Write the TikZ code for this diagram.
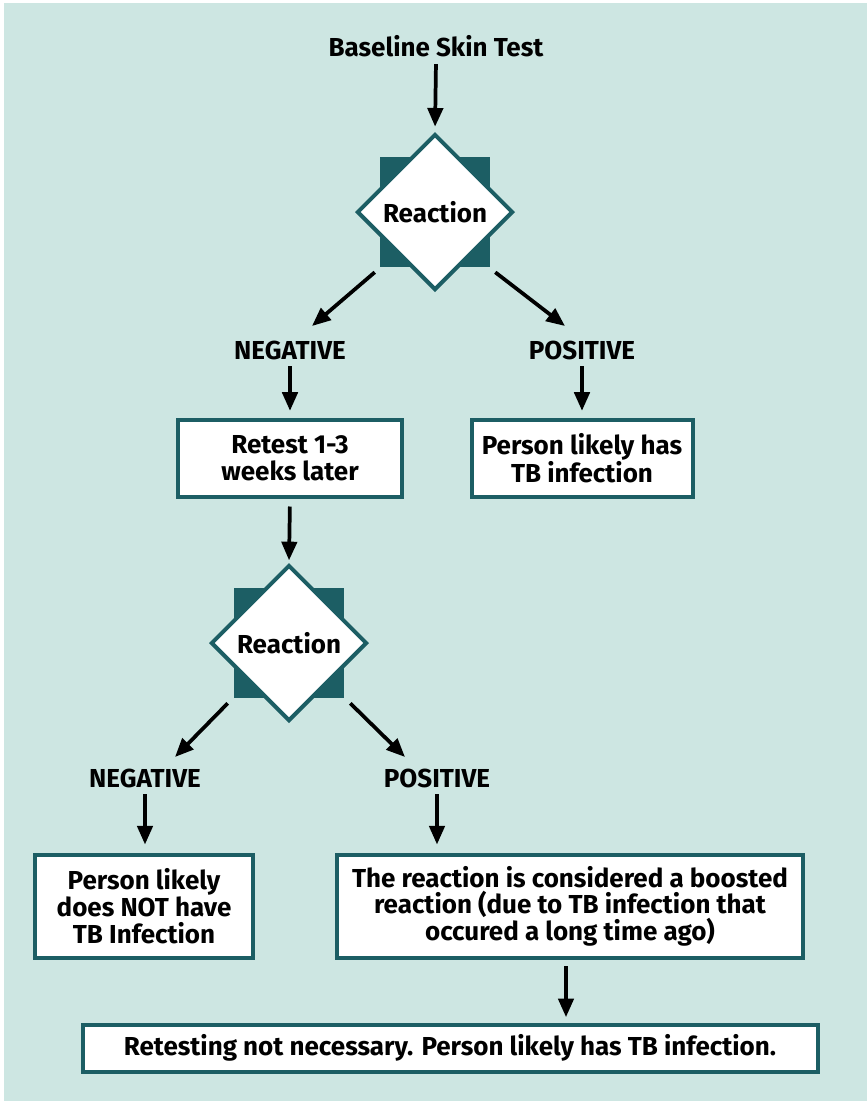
\documentclass[tikz,border=0pt]{standalone}
\usepackage{fontspec}
\setmainfont{Fira Sans}
\usetikzlibrary{shapes.geometric,arrows.meta}
\definecolor{bgteal}{RGB}{205,230,226}
\definecolor{darkteal}{RGB}{28,94,100}
\newcommand\pxu{0.75pt}

\begin{document}
\begin{tikzpicture}[x=0.75pt,y=-0.75pt,>={Triangle[length=14pt,width=11.5pt]},
        every node/.style={font=\fontsize{19.5}{20}\selectfont\bfseries},
        arr/.style={->,line width=2.8pt},
        box/.style={draw=darkteal,line width=3pt,fill=white,align=center,inner sep=0pt},
        choice/.style={diamond,draw=darkteal,line width=3pt,fill=white,inner sep=0pt,
                minimum width=156*\pxu,minimum height=156*\pxu},
        backsq/.style={rectangle,fill=darkteal,inner sep=0pt,minimum size=110*\pxu},
        lbl/.style={inner sep=2pt}]
        % background
        \useasboundingbox (0,0) rectangle (867,1101);
        \fill[bgteal] (4,3) rectangle (867,1101);
        % first test
        \node (start) at (436,46) {Baseline Skin Test};
        \node[backsq] (sq1) at (435,212) {};
        \node[choice] (react1) at (435,212) {Reaction};
        \node[lbl] (neg1) at (290,350) {NEGATIVE};
        \node[lbl] (pos1) at (582,350) {POSITIVE};
        \node[box,minimum width=224*\pxu,minimum height=77*\pxu] (retest) at (290,458) {Retest 1-3\\weeks later};
        \node[box,minimum width=221*\pxu,minimum height=77*\pxu] (likely) at (582,458) {Person likely has\\TB infection};
        % second test
        \node[backsq] (sq2) at (289,643) {};
        \node[choice] (react2) at (289,643) {Reaction};
        \node[lbl] (neg2) at (145,778) {NEGATIVE};
        \node[lbl] (pos2) at (437,778) {POSITIVE};
        \node[box,minimum width=218*\pxu,minimum height=103*\pxu] (notb) at (144,906) {Person likely\\does NOT have\\TB Infection};
        \node[box,minimum width=466*\pxu,minimum height=103*\pxu] (boost) at (570,906) {The reaction is considered a boosted\\reaction (due to TB infection that\\occured a long time ago)};
        \node[box,minimum width=735*\pxu,minimum height=47*\pxu] (final) at (450,1048) {Retesting not necessary. Person likely has TB infection.};
        \coordinate (n1) at (312,326);
        \coordinate (p1) at (565,326);
        \coordinate (n2) at (175,757);
        \coordinate (p2) at (405,757);
        % arrows
        \draw[arr,shorten <=2pt,shorten >=4pt] (start.south) -- (react1.north);
        \draw[arr] ([shift={(-5,5)}]sq1.south west) -- (n1);
        \draw[arr] ([shift={(5,5)}]sq1.south east) -- (p1);
        \foreach \a/\b in {neg1/retest,pos1/likely}
        \draw[arr,shorten <=3pt,shorten >=5pt] (\a.south) -- (\b.north);
        \draw[arr,shorten <=6pt,shorten >=2pt] (retest.south) -- (react2.north);
        \draw[arr] ([shift={(-6,5)}]sq2.south west) -- (n2);
        \draw[arr] ([shift={(6,5)}]sq2.south east) -- (p2);
        \foreach \a/\b in {neg2/notb,pos2/boost}
        \draw[arr,shorten <=3pt,shorten >=6pt] (\a.south) -- (\a.south |- \b.north);
        \draw[arr,shorten <=5pt,shorten >=4pt] ([xshift=-3]boost.south) -- ([xshift=-3]boost.south |- final.north);
      \end{tikzpicture}
\end{document}
